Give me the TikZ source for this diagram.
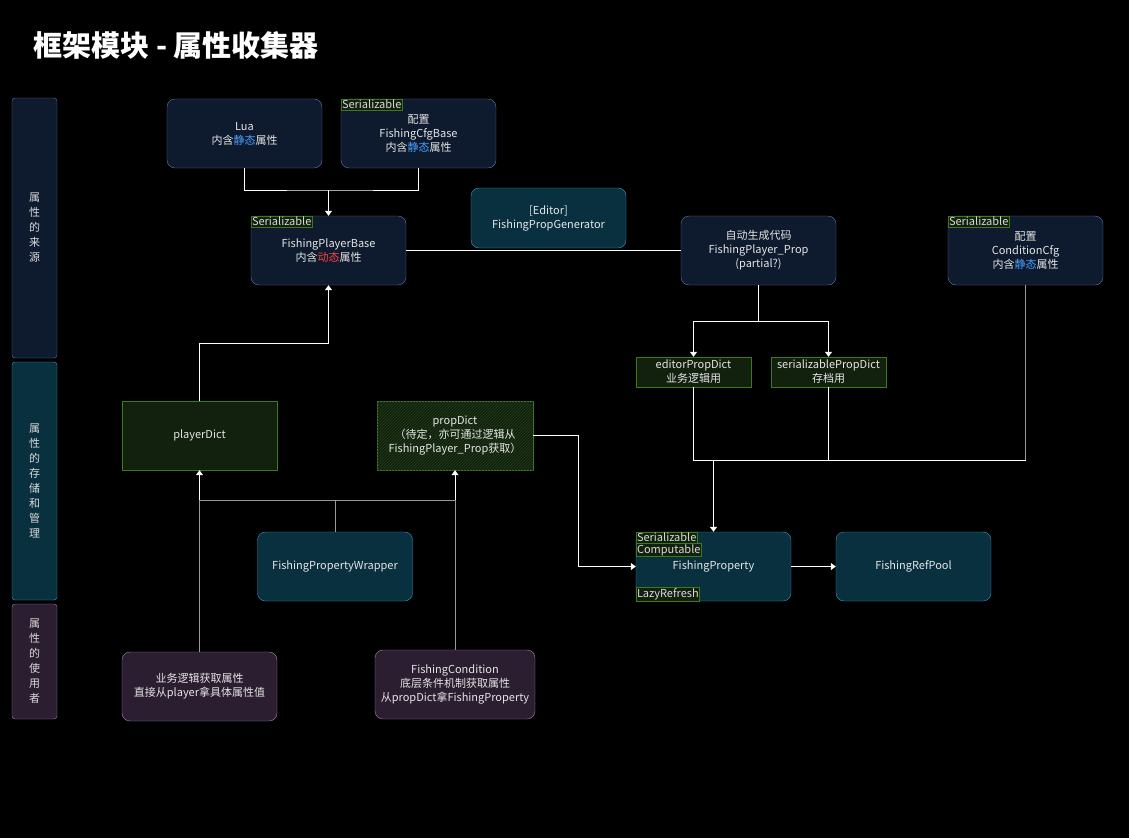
\documentclass[tikz,border=0pt]{standalone}
\usepackage{fontspec}
\setmainfont{Noto Sans CJK SC}
\usetikzlibrary{positioning,patterns,arrows.meta}
\definecolor{navyfill}{HTML}{0E1A2E}
\definecolor{navyline}{HTML}{5A7AAA}
\definecolor{tealfill}{HTML}{08303F}
\definecolor{tealline}{HTML}{3A9AC0}
\definecolor{purpfill}{HTML}{2A1E30}
\definecolor{purpline}{HTML}{A08AA8}
\definecolor{grnfill}{HTML}{12200E}
\definecolor{grnline}{HTML}{3A7A1A}
\definecolor{hatchgrn}{HTML}{24401A}
\definecolor{statblue}{HTML}{4AA0FF}
\definecolor{dynred}{HTML}{FF4444}
\tikzset{
  box/.style={rounded corners=8pt, minimum width=155pt, minimum height=69pt, align=center, text=white!90!black, font=\fontsize{11}{14}\selectfont},
  navybox/.style={box, draw=navyline, fill=navyfill},
  tealbox/.style={box, draw=tealline, fill=tealfill},
  purpbox/.style={box, draw=purpline, fill=purpfill},
  dictbox/.style={draw=grnline, fill=grnfill, align=center, text=white!90!black, font=\fontsize{11}{14}\selectfont},
  tagbox/.style={draw=grnline, fill=grnfill, text=white!85!black, inner sep=1pt, font=\fontsize{11}{12}\selectfont},
  sidebar/.style={rounded corners=3pt, minimum width=45pt, align=center, text=white!85!black, font=\fontsize{11}{15}\selectfont},
  wire/.style={draw=white, line width=0.8pt},
  grey/.style={draw=gray!80, line width=0.8pt},
  arr/.style={-{Triangle[width=7pt,length=5pt]}}
}
\begin{document}
\begin{tikzpicture}[x=1pt,y=-1pt]
\fill[black] (0,0) rectangle (1129,838);
\node[anchor=west, text=white, font=\fontsize{29}{34}\selectfont\bfseries] (title) at (30,45) {框架模块 - 属性收集器};

% side bars
\node[sidebar, draw=navyline, fill=navyfill, minimum height=260pt] (srcbar) at (34.5,228) {属\\性\\的\\来\\源};
\node[sidebar, draw=tealline, fill=tealfill, minimum height=238pt] (storebar) at (34.5,481) {属\\性\\的\\存\\储\\和\\管\\理};
\node[sidebar, draw=purpline, fill=purpfill, minimum height=115pt] (userbar) at (34.5,661.5) {属\\性\\的\\使\\用\\者};

% sources
\node[navybox] (lua) at (244.5,133.5) {Lua\\内含\textcolor{statblue}{静态}属性};
\node[navybox] (cfgbase) at (418.5,133.5) {配置\\FishingCfgBase\\内含\textcolor{statblue}{静态}属性};
\node[navybox] (playerbase) at (328.5,250.5) {FishingPlayerBase\\内含\textcolor{dynred}{动态}属性};
\node[tealbox, minimum height=60pt] (generator) at (548.5,218) {[Editor]\\FishingPropGenerator};
\node[navybox] (playerprop) at (758.5,250.5) {自动生成代码\\FishingPlayer\_Prop\\(partial?)};
\node[navybox] (condcfg) at (1025.5,250.5) {配置\\ConditionCfg\\内含\textcolor{statblue}{静态}属性};
\node[tagbox, anchor=north west] at (cfgbase.north west) {Serializable};
\node[tagbox, anchor=north west] at (playerbase.north west) {Serializable};
\node[tagbox, anchor=north west] at (condcfg.north west) {Serializable};

% storage
\node[dictbox, minimum width=115pt, minimum height=30pt, inner sep=1pt] (editordict) at (693.5,372) {editorPropDict\\业务逻辑用};
\node[dictbox, minimum width=115pt, minimum height=30pt, inner sep=1pt] (serialdict) at (828.5,372) {serializablePropDict\\存档用};
\node[dictbox, minimum width=155pt, minimum height=69pt] (playerdict) at (199.5,435.5) {playerDict};
\node[dictbox, postaction={pattern=north east lines, pattern color=hatchgrn}, minimum width=156pt, minimum height=69pt] (propdict) at (455,435.5) {};
\node[align=center, text=white!90!black, font=\fontsize{11}{14}\selectfont] (propdicttext) at (propdict.center) {propDict\\（待定，亦可通过逻辑从\\FishingPlayer\_Prop获取）};
\node[tealbox] (wrapper) at (335,566.5) {FishingPropertyWrapper};
\node[tealbox] (property) at (713.5,566.5) {FishingProperty};
\node[tealbox] (refpool) at (913.5,566.5) {FishingRefPool};
\node[tagbox, anchor=north west] (serialtag) at (property.north west) {Serializable};
\node[tagbox, below=0pt of serialtag.south west, anchor=north west] {Computable};
\node[tagbox, anchor=south west] at (property.south west) {LazyRefresh};

% users
\node[purpbox] (logic) at (199.5,686.5) {业务逻辑获取属性\\直接从player拿具体属性值};
\node[purpbox, minimum width=160pt] (condition) at (455,684.5) {FishingCondition\\底层条件机制获取属性\\从propDict拿FishingProperty};

% connectors
\coordinate (srcjoin) at (328.5,190);
\draw[wire] (lua.south) |- (srcjoin) -| (cfgbase.south);
\draw[wire, arr] (srcjoin) -- (playerbase.north);
\draw[wire] (playerbase.east) -- (playerprop.west);
\coordinate (propsplit) at (758.5,321);
\draw[wire] (playerprop.south) -- (propsplit);
\draw[wire, arr] (propsplit) -| (editordict.north);
\draw[wire, arr] (propsplit) -| (serialdict.north);
\coordinate (dictjoin) at (713.5,460);
\draw[wire] (editordict.south) |- (dictjoin);
\draw[wire] (serialdict.south) |- (dictjoin);
\draw[grey] (condcfg.south) |- (serialdict.south |- dictjoin);
\draw[wire] (editordict.south |- dictjoin) -- (condcfg.south |- dictjoin);
\draw[wire, arr] (dictjoin) -- (property.north);
\draw[wire, arr] (propdict.east) -| (578,566.5) -- (property.west);
\draw[wire, arr] (property.east) -- (refpool.west);
\draw[wire, arr] (playerdict.north) |- (328.5,343) -- (playerbase.south);
\coordinate (usejoin) at (335,500);
\draw[grey] (logic.north) -- (playerdict.south |- usejoin);
\draw[grey] (condition.north) -- (propdict.south |- usejoin);
\draw[grey] (wrapper.north) -- (usejoin);
\draw[grey] (playerdict.south |- usejoin) -- (propdict.south |- usejoin);
\draw[wire, arr] (playerdict.south |- usejoin) -- (playerdict.south);
\draw[wire, arr] (propdict.south |- usejoin) -- (propdict.south);
\end{tikzpicture}
\end{document}
